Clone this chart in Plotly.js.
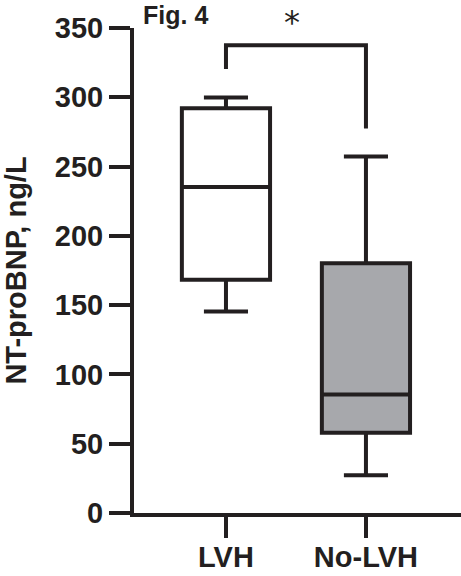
<!DOCTYPE html>
<html>
<head>
<meta charset="utf-8">
<script src="https://cdn.plot.ly/plotly-3.0.1.min.js"></script>
<style>
  html, body { margin: 0; padding: 0; background: #fff; }
  #chart { width: 461px; height: 576px; }
</style>
</head>
<body>
<div id="chart"></div>
<script>
// groups and box stats (ng/L)
var groups = ['LVH', 'No-LVH'];
var lowWhisker = [145.5, 27.2];
var q1 = [168.3, 58.0];
var med = [235.3, 85.5];
var q3 = [292.0, 180.2];
var highWhisker = [299.9, 257.2];
var fills = ['#ffffff', '#a7a8ac'];

// significance bracket
var bracketX = ['LVH', 'LVH', 'No-LVH', 'No-LVH'];
var bracketY = [320.5, 337.6, 337.6, 277.5];

var ink = '#231f20';
var fnt = 'Liberation Sans, Arial, Helvetica, sans-serif';

var traces = [];
for (var i = 0; i < groups.length; i++) {
  traces.push({
    type: 'box',
    x: [groups[i]],
    q1: [q1[i]],
    median: [med[i]],
    q3: [q3[i]],
    lowerfence: [lowWhisker[i]],
    upperfence: [highWhisker[i]],
    width: 0.63,
    whiskerwidth: 0.5,
    fillcolor: fills[i],
    line: {color: ink, width: 4},
    hoverinfo: 'skip',
    showlegend: false
  });
}

traces.push({
  type: 'scatter',
  mode: 'lines',
  x: bracketX,
  y: bracketY,
  line: {color: ink, width: 4},
  hoverinfo: 'skip',
  showlegend: false
});

var layout = {
  width: 461,
  height: 576,
  margin: {l: 134, r: 0, t: 28, b: 63},
  paper_bgcolor: '#fff',
  plot_bgcolor: '#fff',
  showlegend: false,
  font: {family: fnt, color: ink},
  xaxis: {
    type: 'category',
    categoryorder: 'array',
    categoryarray: groups,
    range: [-0.657, 1.679],
    showline: true,
    linecolor: ink,
    linewidth: 4,
    ticks: 'outside',
    ticklen: 21,
    tickwidth: 4,
    tickcolor: ink,
    ticklabelstandoff: -6,
    showgrid: false,
    zeroline: false,
    tickfont: {family: fnt, size: 29, color: ink, weight: 'bold'}
  },
  yaxis: {
    range: [0, 350],
    tickvals: [0, 50, 100, 150, 200, 250, 300, 350],
    showline: true,
    linecolor: ink,
    linewidth: 4,
    ticks: 'outside',
    ticklen: 21,
    tickwidth: 4,
    tickcolor: ink,
    showgrid: false,
    zeroline: false,
    tickfont: {family: fnt, size: 29, color: ink, weight: 'bold'},
    title: {
      text: 'NT-proBNP, ng/L',
      standoff: 24,
      font: {family: fnt, size: 29, color: ink, weight: 'bold'}
    }
  },
  shapes: [{
    type: 'line', xref: 'paper', yref: 'y',
    x0: -0.064, x1: 0, y0: 0, y1: 0,
    line: {color: ink, width: 4}
  }],
  annotations: [
    {
      xref: 'paper', yref: 'paper',
      x: 0.022, y: 1.026,
      xanchor: 'left', yanchor: 'middle',
      text: 'Fig. 4', showarrow: false,
      font: {family: fnt, size: 25, color: ink, weight: 'bold'}
    },
    {
      xref: 'paper', yref: 'paper',
      x: 0.483, y: 1.012,
      xanchor: 'center', yanchor: 'middle',
      text: '*', showarrow: false,
      font: {family: 'DejaVu Sans, sans-serif', size: 32, color: ink}
    }
  ]
};

Plotly.newPlot('chart', traces, layout, {displayModeBar: false, staticPlot: true});
</script>
</body>
</html>
